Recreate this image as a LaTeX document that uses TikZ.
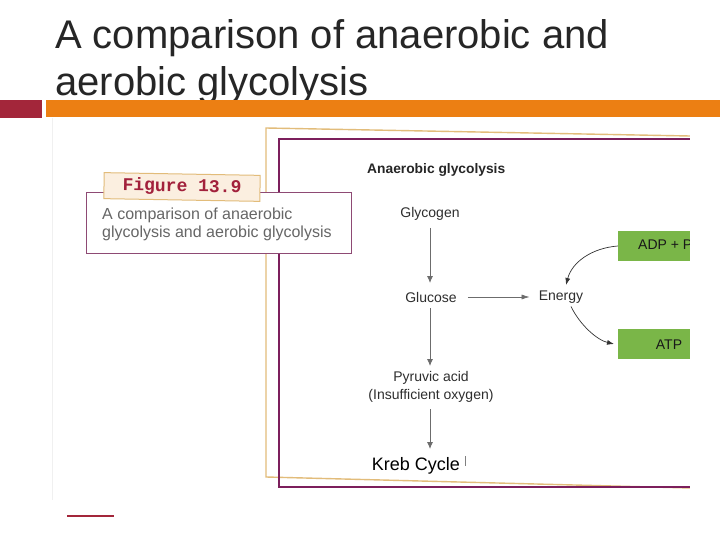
\documentclass[tikz,border=0pt]{standalone}
\usepackage{fontspec}
\setmainfont{Liberation Sans}
\newfontfamily\monofnt{Liberation Mono}
\usetikzlibrary{arrows.meta}
\definecolor{titlegray}{HTML}{262626}
\definecolor{barred}{HTML}{A3263A}
\definecolor{barorange}{HTML}{EC7F13}
\definecolor{goldline}{HTML}{E2BC7A}
\definecolor{purpline}{HTML}{7C1F5C}
\definecolor{capline}{HTML}{8E4A74}
\definecolor{tabfill}{HTML}{FBEFE0}
\definecolor{tabred}{HTML}{A2213C}
\definecolor{figtext}{HTML}{2E2E2E}
\definecolor{greenbox}{HTML}{7AB648}
\tikzset{
  figlabel/.style={font=\fontsize{14}{17}\selectfont, text=figtext, align=center, inner sep=1pt},
  vflow/.style={draw=gray!85!black, line width=0.9pt, -{Latex[length=7pt,width=6pt]}},
  curvearr/.style={draw=black!80, line width=0.7pt, -{Latex[length=7pt,width=5pt]}},
  greenstyle/.style={fill=greenbox, draw=none, minimum width=72pt, minimum height=30pt, inner sep=0pt}
}
\begin{document}
\begin{tikzpicture}[x=1pt,y=-1pt]
\useasboundingbox (0,0) rectangle (720,540);
\fill[white] (0,0) rectangle (720,540);
% title
\node[anchor=base west, inner sep=0pt, text=titlegray, font=\fontsize{40}{46}\selectfont] (t1) at (55,49) {A comparison of anaerobic and};
\node[anchor=base west, inner sep=0pt, text=titlegray, font=\fontsize{40}{46}\selectfont] (t2) at (55,96) {aerobic glycolysis};
% bars
\fill[barred] (0,100) rectangle (42,118);
\fill[barorange] (46,100) rectangle (720,117);
% faint image area
\draw[black!6, line width=0.6pt] (52,118) -- (52,500);
% gold frame
\draw[goldline, line width=1.4pt] (690,136) -- (266,128) -- (266,477) -- (690,488);
% purple frame
\draw[purpline, line width=1.8pt] (690,139) -- (279,139) -- (279,487) -- (690,487);
% caption box
\node[draw=capline, line width=0.8pt, fill=white, minimum width=265pt, minimum height=61pt, inner sep=0pt] (cap) at (218.5,222.5) {};
\node[anchor=west, align=left, text=black!60, font=\fontsize{16}{18}\selectfont, inner sep=0pt] (captext) at (102,224) {A comparison of anaerobic\\glycolysis and aerobic glycolysis};
% figure tab
\node[draw=goldline, line width=1pt, fill=tabfill, minimum width=156pt, minimum height=26pt, rotate=-1, inner sep=0pt, font=\monofnt\bfseries\fontsize{18}{20}\selectfont, text=tabred] (tab) at (182,187) {Figure 13.9};
% diagram
\node[font=\bfseries\fontsize{13.8}{16}\selectfont, text=black!85, anchor=west, inner sep=0pt] (head) at (367,170) {Anaerobic glycolysis};
\node[figlabel] (glycogen) at (430,214) {Glycogen};
\node[figlabel] (glucose) at (431,297) {Glucose};
\node[figlabel] (energy) at (561,297) {Energy};
\node[figlabel, font=\fontsize{14}{17.5}\selectfont] (pyruvic) at (431,387) {Pyruvic acid\\(Insufficient oxygen)};
\node[font=\fontsize{18}{21}\selectfont, text=black, inner sep=1pt] (kreb) at (416,466) {Kreb Cycle};
\draw[black!50, line width=0.5pt] (465,456) -- (465,466);
\node[greenstyle] (adp) at (654,246) {};
\node[greenstyle] (atp) at (654,344) {};
\node[font=\fontsize{14}{16}\selectfont, text=black!90, anchor=west, inner sep=0] (adptext) at (638,245) {ADP + P};
\node[font=\fontsize{14}{16}\selectfont, text=black!90, inner sep=0] (atptext) at (669,345) {ATP};
% white mask on right
\fill[white] (690,119) rectangle (720,540);
% arrows
\draw[vflow] (430,228) -- (430,283);
\draw[vflow] (430,308) -- (430,366);
\draw[vflow] (430,409) -- (430,449);
\draw[draw=gray!85!black, line width=0.7pt, -{Latex[length=8pt,width=5pt]}, shorten >=8pt] (glucose.east) ++(10,0) -- (energy.west);
\draw[curvearr] (adp.west) .. controls (592,248) and (572,262) .. (566,285);
\draw[curvearr] (energy.south) ++(10,2) .. controls (580,325) and (597,340) .. (614,344);
% small red line
\draw[barred, line width=1.6pt] (67,516) -- (114,516);
\end{tikzpicture}
\end{document}
